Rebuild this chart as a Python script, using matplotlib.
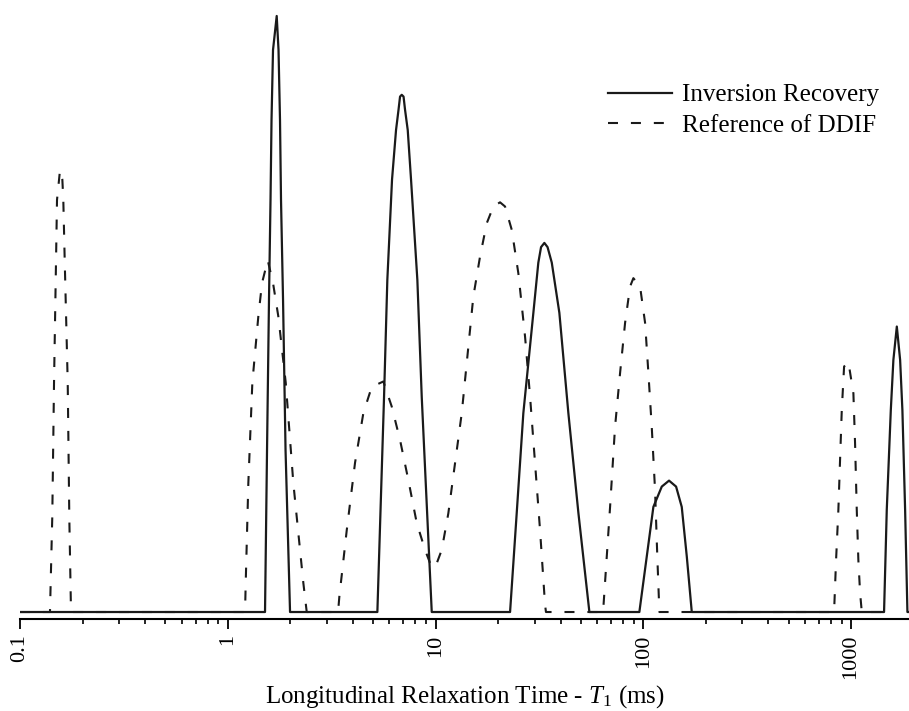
"""T1 distributions: inversion recovery vs. the DDIF reference."""

import matplotlib

matplotlib.use("Agg")
import matplotlib.pyplot as plt
from matplotlib.ticker import FixedLocator, FixedFormatter, LogLocator, NullFormatter

# inversion recovery T1 distribution (ms, arbitrary amplitude)
ir_t1 = [
    0.1, 1.511, 1.545, 1.579, 1.606, 1.624, 1.651, 1.720, 1.755, 1.784, 1.804, 1.845, 1.897, 1.994,
    5.248, 5.651, 5.861, 6.174, 6.454, 6.635, 6.748, 6.875, 7.015, 7.132, 7.348, 7.622, 8.175, 8.582, 9.588,
    22.84, 24.59, 26.46, 29.57, 31.24, 32.20, 33.40, 34.60, 36.26, 39.44, 43.58, 48.70, 55.01,
    95.72, 103.9, 111.8, 122.7, 133.0, 143.8, 153.1, 161.9, 171.1,
    1441, 1485, 1553, 1598, 1660, 1722, 1766, 1820, 1867, 1900,
]
ir_amp = [
    0, 0, 27.1, 52.3, 69.0, 82.4, 94.1, 99.8, 94.1, 82.4, 69.0, 52.3, 27.1, 0,
    0, 36.0, 55.6, 72.4, 80.7, 84.1, 86.3, 86.6, 86.3, 84.1, 80.7, 72.4, 55.6, 36.0, 0,
    0, 16.6, 33.3, 50.1, 58.5, 61.1, 61.8, 61.1, 58.5, 50.1, 33.3, 16.6, 0,
    0, 9.3, 17.6, 21.0, 22.0, 21.0, 17.6, 9.3, 0,
    0, 17.1, 33.8, 42.2, 47.8, 42.2, 33.8, 17.1, 0, 0,
]

# DDIF reference T1 distribution
ddif_t1 = [
    0.1, 0.1394, 0.1430, 0.1458, 0.1491, 0.1507, 0.1558, 0.1599, 0.1616, 0.1641, 0.1697, 0.1727, 0.1760,
    1.211, 1.220, 1.256, 1.313, 1.403, 1.462, 1.557, 1.651, 1.751, 1.901, 2.068, 2.310, 2.399,
    3.395, 3.444, 3.738, 4.098, 4.493, 4.931, 5.608, 6.154, 6.748, 7.397, 8.120, 8.903, 9.408, 9.945,
    10.71, 11.52, 12.41, 13.37, 14.13, 15.20, 16.37, 17.64, 18.98, 20.44, 21.60, 23.27, 25.04,
    26.97, 28.50, 30.13, 31.84, 33.66, 34.0,
    64.02, 69.19, 73.11, 77.29, 81.70, 86.36, 89.57, 96.47, 102.0, 105.8, 109.8, 113.9, 116.8, 119.5,
    828.2, 846.7, 868.6, 885.1, 902.0, 925.4, 970.5, 1026, 1045, 1065, 1084, 1105, 1126, 1590,
]
ddif_amp = [
    0, 0, 15.9, 38.4, 59.0, 69.0, 74.0, 72.4, 69.0, 59.0, 38.4, 15.9, 0,
    0, 4.9, 21.6, 38.4, 49.5, 55.1, 58.9, 55.1, 49.5, 38.4, 21.6, 4.9, 0,
    0, 2.6, 13.7, 25.0, 33.3, 37.7, 38.6, 34.4, 28.8, 22.1, 14.9, 10.4, 8.2, 7.4,
    10.4, 16.5, 24.9, 33.3, 41.7, 52.8, 59.5, 65.1, 67.9, 68.6, 67.9, 64.0, 56.7,
    46.1, 36.1, 24.9, 13.7, 1.2, 0,
    0, 17.6, 31.0, 40.0, 48.4, 54.5, 55.9, 54.5, 48.4, 40.0, 31.0, 20.4, 9.2, 0,
    0, 8.7, 17.1, 25.5, 33.8, 41.1, 41.9, 36.6, 28.3, 17.1, 8.7, 3.2, 0, 0,
]

major_ticks = [0.1, 1, 10, 100, 1000]
major_labels = ["0.1", "1", "10", "100", "1000"]

plt.rcParams["font.family"] = "serif"
plt.rcParams["font.serif"] = ["Liberation Serif", "DejaVu Serif"]
plt.rcParams["mathtext.fontset"] = "custom"
plt.rcParams["mathtext.rm"] = "Liberation Serif"
plt.rcParams["mathtext.it"] = "Liberation Serif:italic"

fig = plt.figure(figsize=(9.09, 7.11), dpi=100)
ax = fig.add_axes([20 / 909, 92 / 711, 889 / 909, 609 / 711])

ax.plot(ir_t1, ir_amp, color="#1a1a1a", lw=1.6, label="Inversion Recovery")
ax.plot(ddif_t1, ddif_amp, color="#1a1a1a", lw=1.5, linestyle=(0, (4.8, 6.2)),
        label="Reference of DDIF")

ax.set_xscale("log")
ax.set_xlim(0.1, 1900)
ax.set_ylim(-1.17, 100.8)

for side in ("left", "right", "top"):
    ax.spines[side].set_visible(False)
ax.spines["bottom"].set_linewidth(1.5)
ax.set_yticks([])

ax.xaxis.set_major_locator(FixedLocator(major_ticks))
ax.xaxis.set_major_formatter(FixedFormatter(major_labels))
ax.xaxis.set_minor_locator(LogLocator(base=10, subs=range(2, 10)))
ax.xaxis.set_minor_formatter(NullFormatter())
ax.tick_params(axis="x", which="major", length=7, width=1.3, labelsize=16,
               labelrotation=90, pad=4)
ax.tick_params(axis="x", which="minor", length=3.5, width=1.2)

ax.set_xlabel(r"Longitudinal Relaxation Time - $T_{\rm 1}$ (ms)", fontsize=18, labelpad=3)

ax.legend(loc="upper left", bbox_to_anchor=(608 / 909, 1 - 84 / 711),
          bbox_transform=fig.transFigure, frameon=False, fontsize=18,
          handlelength=2.55, handletextpad=0.4, borderpad=0, borderaxespad=0,
          labelspacing=0.3)

fig.savefig("out.png", dpi=100)
plt.close(fig)
